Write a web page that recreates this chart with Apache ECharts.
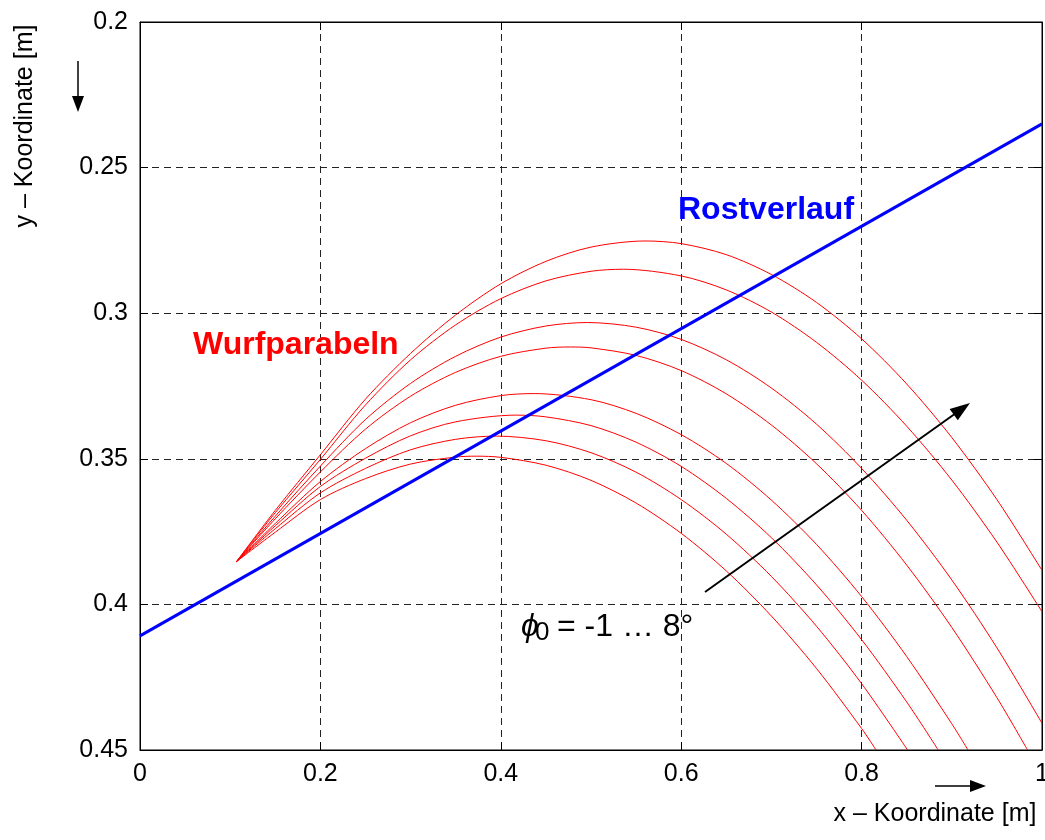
<!DOCTYPE html>
<html><head><meta charset="utf-8">
<script src="https://cdn.jsdelivr.net/npm/echarts@6/dist/echarts.min.js"></script>
<style>html,body{margin:0;padding:0;background:#fff}#c{width:1045px;height:840px}</style>
</head><body><div id="c"></div>
<script>
// shared x positions of the read-off points
const xGrid = [0.107, 0.15, 0.2, 0.25, 0.3, 0.35, 0.4, 0.45, 0.5, 0.55, 0.6, 0.65, 0.7, 0.75, 0.8, 0.85, 0.9, 0.95, 1.0];
// Wurfparabeln (y values on xGrid), top curve first
const curve1 = [0.3853, 0.3677, 0.3486, 0.3295, 0.3138, 0.3006, 0.2899, 0.2822, 0.2773, 0.2753, 0.2761, 0.2799, 0.2867, 0.2963, 0.3088, 0.3243, 0.3427, 0.3640, 0.3883];
const curve2 = [0.3853, 0.3685, 0.3502, 0.3315, 0.3160, 0.3040, 0.2950, 0.2889, 0.2856, 0.2850, 0.2872, 0.2920, 0.2996, 0.3100, 0.3230, 0.3388, 0.3573, 0.3786, 0.4025];
const curve3 = [0.3853, 0.3697, 0.3525, 0.3365, 0.3241, 0.3148, 0.3082, 0.3044, 0.3032, 0.3048, 0.3090, 0.3160, 0.3257, 0.3381, 0.3533, 0.3711, 0.3916, 0.4149, 0.4408];
const curve4 = [0.3853, 0.3706, 0.3545, 0.3398, 0.3285, 0.3203, 0.3148, 0.3120, 0.3119, 0.3145, 0.3197, 0.3277, 0.3384, 0.3517, 0.3677, 0.3865, 0.4079, 0.4320];
const curve5 = [0.3853, 0.3722, 0.3578, 0.3465, 0.3376, 0.3316, 0.3283, 0.3277, 0.3297, 0.3344, 0.3417, 0.3516, 0.3642, 0.3794, 0.3973, 0.4179, 0.4410];
const curve6 = [0.3853, 0.3730, 0.3595, 0.3498, 0.3421, 0.3373, 0.3351, 0.3356, 0.3386, 0.3443, 0.3526, 0.3636, 0.3771, 0.3933, 0.4121, 0.4335];
const curve7 = [0.3853, 0.3740, 0.3617, 0.3533, 0.3469, 0.3433, 0.3422, 0.3438, 0.3479, 0.3546, 0.3640, 0.3759, 0.3904, 0.4075, 0.4272];
const curve8 = [0.3853, 0.3752, 0.3640, 0.3568, 0.3518, 0.3494, 0.3495, 0.3522, 0.3574, 0.3652, 0.3756, 0.3885, 0.4040, 0.4220, 0.4426];
// apex of each curve
const peakX = [0.560, 0.536, 0.496, 0.477, 0.437, 0.417, 0.395, 0.373];
const peakY = [0.2752, 0.2849, 0.3032, 0.3116, 0.3276, 0.3350, 0.3422, 0.3491];
// where the lower curves leave the plot at its bottom edge (y = 0.45)
const curveEndX = [null, null, null, 0.984, 0.918, 0.885, 0.851, 0.816];
const curveEndY = 0.45;
// Rostverlauf (straight line)
const rostX = [0, 1];
const rostY = [0.4108, 0.2350];
// tick labels
const xTickLabels = ['0', '0.2', '0.4', '0.6', '0.8', '1'];
const yTickLabels = ['0.2', '0.25', '0.3', '0.35', '0.4', '0.45'];

const FONT = "'Liberation Sans', Arial, Helvetica, sans-serif";
const curves = [curve1, curve2, curve3, curve4, curve5, curve6, curve7, curve8];

const chart = echarts.init(document.getElementById('c'), null, {renderer: 'canvas'});

const series = curves.map((ys, i) => {
  const data = [];
  let peakDone = false;
  ys.forEach((y, k) => {
    const x = xGrid[k];
    if (!peakDone && x > peakX[i]) { data.push([peakX[i], peakY[i]]); peakDone = true; }
    if (Math.abs(x - peakX[i]) < 0.02) return;
    data.push([x, y]);
  });
  if (curveEndX[i] !== null) data.push([curveEndX[i], curveEndY]);
  return {
    type: 'line', data: data, showSymbol: false, smooth: 0.3,
    lineStyle: {color: '#ff0000', width: 1}, silent: true, z: 3
  };
});
series.push({
  type: 'line', data: rostX.map((x, k) => [x, rostY[k]]), showSymbol: false,
  lineStyle: {color: '#0000ff', width: 3}, silent: true, z: 4
});

function arrow(x1, y1, x2, y2, headLen, halfW, lw) {
  const dx = x2 - x1, dy = y2 - y1, L = Math.hypot(dx, dy);
  const ux = dx / L, uy = dy / L;
  const bx = x2 - ux * headLen, by = y2 - uy * headLen;
  const px = -uy * halfW, py = ux * halfW;
  return [
    {type: 'line', shape: {x1: x1, y1: y1, x2: bx + ux * 2, y2: by + uy * 2}, style: {stroke: '#000', lineWidth: lw}, z: 10},
    {type: 'polygon', shape: {points: [[x2, y2], [bx + px, by + py], [bx - px, by - py]]}, style: {fill: '#000'}, z: 10}
  ];
}

const graphics = [].concat(
  arrow(705, 592, 970, 403, 20, 7, 2),
  arrow(78, 61, 78, 112, 16, 6, 1.5),
  arrow(935, 786, 986, 786, 16, 6, 1.5),
  [
    {type: 'text', x: 25, y: 126, rotation: Math.PI / 2, z: 10,
     style: {text: 'y – Koordinate [m]', font: '25px ' + FONT, fill: '#000', align: 'center', verticalAlign: 'middle'}},
    {type: 'text', x: 935, y: 814, z: 10,
     style: {text: 'x – Koordinate [m]', font: '25px ' + FONT, fill: '#000', align: 'center', verticalAlign: 'middle'}},
    {type: 'text', x: 678, y: 210, z: 10,
     style: {text: 'Rostverlauf', font: 'bold 32px ' + FONT, fill: '#0000ff', align: 'left', verticalAlign: 'middle'}},
    {type: 'text', x: 193, y: 345, z: 10,
     style: {text: 'Wurfparabeln', font: 'bold 32px ' + FONT, fill: '#ff0000', align: 'left', verticalAlign: 'middle'}},
    {type: 'text', x: 521, y: 627, z: 10,
     style: {text: 'ϕ', font: 'italic 32px ' + FONT, fill: '#000', align: 'left', verticalAlign: 'middle'}},
    {type: 'text', x: 535, y: 633, z: 10,
     style: {text: '0', font: '26px ' + FONT, fill: '#000', align: 'left', verticalAlign: 'middle'}},
    {type: 'text', x: 557, y: 627, z: 10,
     style: {text: '= -1 … 8°', font: '32px ' + FONT, fill: '#000', align: 'left', verticalAlign: 'middle'}}
  ]
);

const axisCommon = {
  type: 'value',
  axisLine: {show: true, onZero: false, lineStyle: {color: '#000', width: 1}},
  axisTick: {show: true, inside: true, length: 8, lineStyle: {color: '#000'}},
};

chart.setOption({
  animation: false,
  backgroundColor: '#fff',
  grid: {left: 140, right: 3, top: 22, bottom: 90, containLabel: false, outerBoundsMode: 'none',
         show: true, borderColor: '#000', borderWidth: 1, backgroundColor: 'transparent'},
  xAxis: [
    Object.assign({}, axisCommon, {
      min: 0, max: 1, interval: 0.2, position: 'bottom',
      axisLabel: {show: true, fontSize: 25, fontFamily: FONT, color: '#000', margin: 12,
        formatter: v => xTickLabels[Math.round(v / 0.2)]},
      splitLine: {show: true, lineStyle: {type: [7, 5], color: '#222', width: 1}}
    }),
    Object.assign({}, axisCommon, {
      min: 0, max: 1, interval: 0.2, position: 'top',
      axisLabel: {show: false}, splitLine: {show: false}
    })
  ],
  yAxis: [
    Object.assign({}, axisCommon, {
      min: 0.2, max: 0.45, interval: 0.05, inverse: true, position: 'left',
      axisLabel: {show: true, fontSize: 25, fontFamily: FONT, color: '#000', margin: 12,
        formatter: v => yTickLabels[Math.round((v - 0.2) / 0.05)]},
      splitLine: {show: true, lineStyle: {type: [7, 5], color: '#222', width: 1}}
    }),
    Object.assign({}, axisCommon, {
      min: 0.2, max: 0.45, interval: 0.05, inverse: true, position: 'right',
      axisLabel: {show: false}, splitLine: {show: false}
    })
  ],
  series: series,
  graphic: graphics
});
</script>
</body></html>
